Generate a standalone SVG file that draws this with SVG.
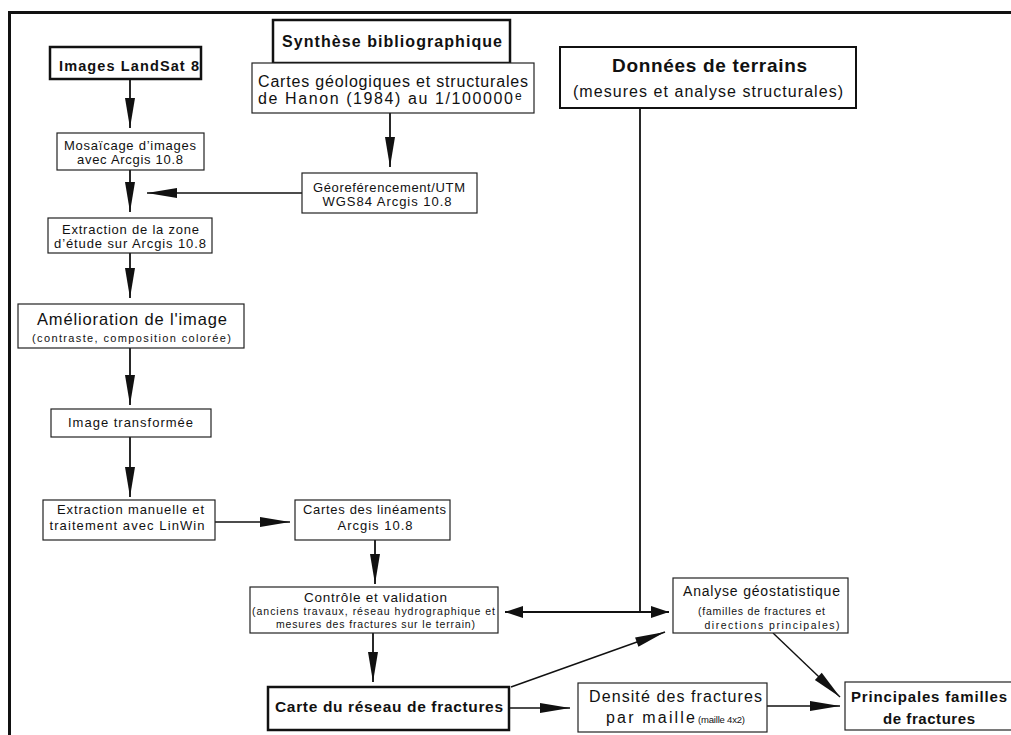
<svg xmlns="http://www.w3.org/2000/svg" width="1011" height="735" viewBox="0 0 1011 735">
<style>
.n{fill:#fff;stroke:#222;stroke-width:1.2}
.N{fill:#fff;stroke:#111;stroke-width:2.5}
text{font-family:"Liberation Sans",Arial,Helvetica,sans-serif;fill:#111;text-anchor:middle}
.bd{font-weight:bold}
.s{text-anchor:start}
.c{fill:none;stroke:#111;stroke-width:1.8}
.d{fill:none;stroke:#111;stroke-width:1.4}
</style>
<defs>
<marker id="ah" markerUnits="userSpaceOnUse" markerWidth="32" markerHeight="12" refX="30" refY="5" orient="auto" overflow="visible"><path d="M0,0 L30,5 L0,10 z" fill="#111"/></marker>
<marker id="as" markerUnits="userSpaceOnUse" markerWidth="20" markerHeight="14" refX="18" refY="6" orient="auto-start-reverse" overflow="visible"><path d="M0,0 L18,6 L0,12 z" fill="#111"/></marker>
</defs>
<rect width="1011" height="735" fill="#fff"/>
<path d="M9.5,735 V12.5 H1012" fill="none" stroke="#111" stroke-width="3"/>

<g id="connectors">
<path class="c" d="M130,79 V128" marker-end="url(#ah)"/>
<path class="c" d="M130,170 V212" marker-end="url(#ah)"/>
<path class="c" d="M130,253 V298" marker-end="url(#ah)"/>
<path class="c" d="M130,348 V405" marker-end="url(#ah)"/>
<path class="c" d="M130,437 V497" marker-end="url(#ah)"/>
<path class="c" d="M390,113 V167" marker-end="url(#ah)"/>
<path class="d" d="M302,193 H147" marker-end="url(#ah)"/>
<path class="d" d="M215,522 H290" marker-end="url(#ah)"/>
<path class="c" d="M375,540 V584" marker-end="url(#ah)"/>
<path class="c" d="M373,633 V682" marker-end="url(#ah)"/>
<path class="d" d="M509,708 H570" marker-end="url(#ah)"/>
<path class="d" d="M767,706 H840" marker-end="url(#ah)"/>
<path class="c" d="M640,108 V612"/>
<path class="c" d="M505,612 H669" marker-start="url(#as)" marker-end="url(#as)"/>
<path class="d" d="M511,687 L665,632" marker-end="url(#ah)"/>
<path class="d" d="M773,633 L840,697" marker-end="url(#ah)"/>
</g>

<g id="landsat">
<rect class="N" x="50" y="47" width="151" height="32"/>
<text class="bd" x="129" y="71" font-size="14.5" textLength="140">Images LandSat 8</text>
</g>
<g id="mosaicage">
<rect class="n" x="57" y="133" width="147" height="37"/>
<text x="130" y="149.5" font-size="13" textLength="132">Mosaïcage d’images</text>
<text x="130" y="164" font-size="13" textLength="106">avec Arcgis 10.8</text>
</g>
<g id="extraction-zone">
<rect class="n" x="48" y="218" width="164" height="35"/>
<text x="130.5" y="233.5" font-size="13" textLength="137">Extraction de la zone</text>
<text x="130" y="248" font-size="13" textLength="152">d’étude sur Arcgis 10.8</text>
</g>
<g id="amelioration">
<rect class="n" x="18" y="304" width="226" height="44"/>
<text x="132" y="325" font-size="16.5" textLength="190">Amélioration de l'image</text>
<text x="131.5" y="341.5" font-size="11" textLength="199">(contraste, composition colorée)</text>
</g>
<g id="image-transformee">
<rect class="n" x="51" y="409" width="160" height="28"/>
<text x="130.5" y="427" font-size="13" textLength="125">Image transformée</text>
</g>
<g id="extraction-manuelle">
<rect class="n" x="43" y="500" width="172" height="40"/>
<text x="130.5" y="514" font-size="13" textLength="147">Extraction manuelle et</text>
<text x="127" y="530" font-size="13" textLength="155">traitement avec LinWin</text>
</g>
<g id="lineaments">
<rect class="n" x="295" y="500" width="155" height="40"/>
<text x="374.5" y="514" font-size="13" textLength="143">Cartes des linéaments</text>
<text x="375" y="530" font-size="13" textLength="75">Arcgis 10.8</text>
</g>
<g id="controle">
<rect class="n" x="250" y="587" width="248" height="46"/>
<text x="375.5" y="601.5" font-size="13.5" textLength="143">Contrôle et validation</text>
<text x="373.5" y="615" font-size="10.5" textLength="243">(anciens travaux, réseau hydrographique et</text>
<text x="375.5" y="628" font-size="10.5" textLength="199">mesures des fractures sur le terrain)</text>
</g>
<g id="carte-reseau">
<rect class="N" x="268" y="687" width="241" height="43"/>
<text class="bd" x="389" y="712" font-size="15.5" textLength="228">Carte du réseau de fractures</text>
</g>
<g id="synthese">
<rect class="N" x="273" y="20" width="237" height="43"/>
<text class="bd" x="392" y="47" font-size="16" textLength="220">Synthèse bibliographique</text>
</g>
<g id="cartes-geologiques">
<rect class="n" x="252" y="63" width="282" height="50"/>
<text x="393" y="87" font-size="16" textLength="270">Cartes géologiques et structurales</text>
<text class="s" x="258" y="104" font-size="16" textLength="255">de Hanon (1984) au 1/100000</text>
<text class="s" x="515" y="99.5" font-size="12">e</text>
</g>
<g id="georeferencement">
<rect class="n" x="302" y="173" width="175" height="40"/>
<text x="389" y="191.5" font-size="13" textLength="152">Géoreférencement/UTM</text>
<text x="387" y="206" font-size="13" textLength="129">WGS84 Arcgis 10.8</text>
</g>
<g id="donnees-terrains">
<rect class="N" x="560" y="47" width="296" height="61" style="stroke-width:2"/>
<text class="bd" x="709.5" y="71.5" font-size="19" textLength="195">Données de terrains</text>
<text x="708" y="97" font-size="16" textLength="270">(mesures et analyse structurales)</text>
</g>
<g id="analyse">
<rect class="n" x="673" y="578" width="175" height="55"/>
<text x="761.5" y="596" font-size="14" textLength="157">Analyse géostatistique</text>
<text x="761.5" y="615" font-size="10.5" textLength="127">(familles de fractures et</text>
<text x="772" y="628.5" font-size="10.5" textLength="135">directions principales)</text>
</g>
<g id="densite">
<rect class="n" x="578" y="683" width="189" height="49"/>
<text x="675.5" y="702" font-size="16" textLength="173">Densité des fractures</text>
<text class="s" x="606" y="723" font-size="16" textLength="89">par maille</text>
<text class="s" x="698" y="723" font-size="9.5" textLength="47">(maille 4x2)</text>
</g>
<g id="principales">
<rect class="n" x="845" y="682" width="170" height="48"/>
<text class="bd" x="929" y="702" font-size="15" textLength="156">Principales familles</text>
<text class="bd" x="929" y="723.5" font-size="15" textLength="92">de fractures</text>
</g>
</svg>
